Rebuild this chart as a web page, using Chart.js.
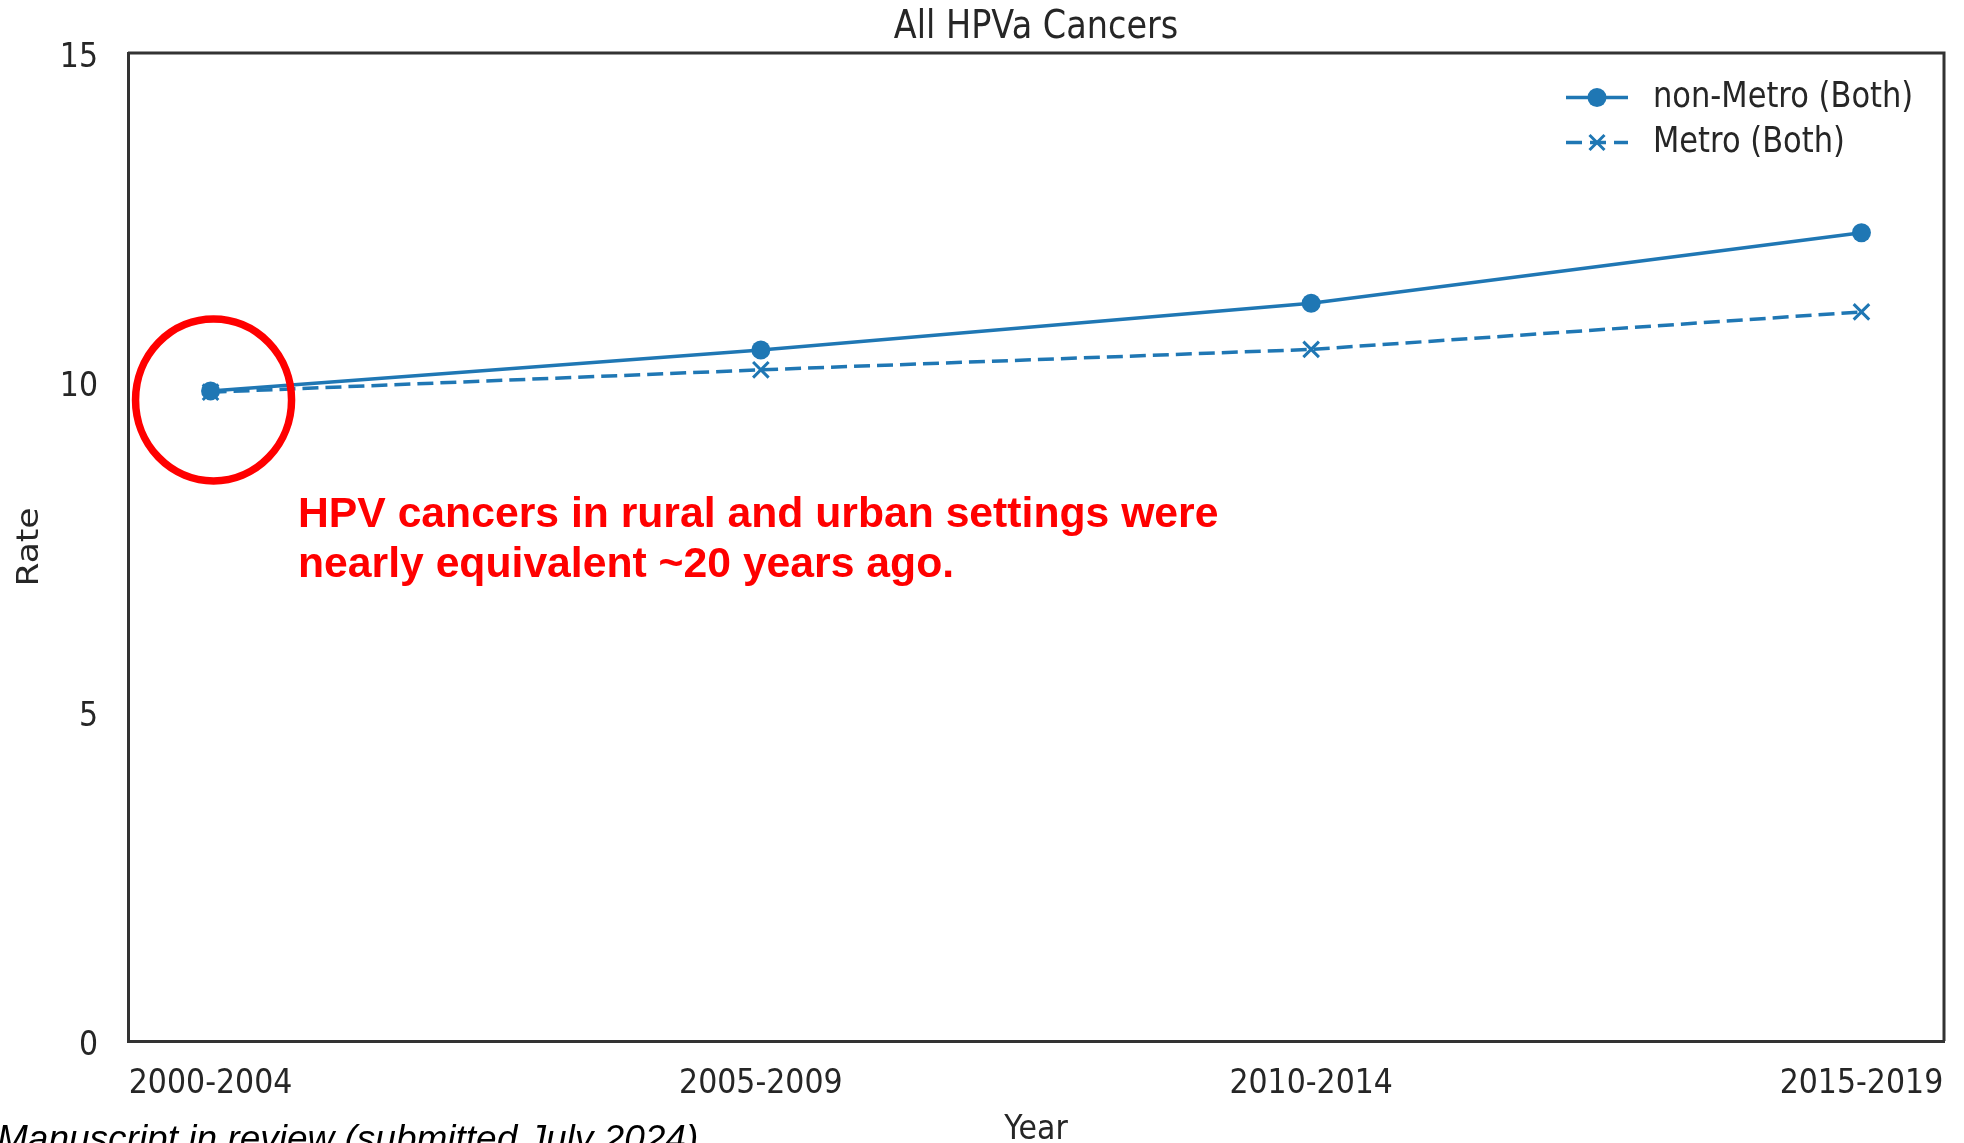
<!DOCTYPE html>
<html>
<head>
<meta charset="utf-8">
<script src="https://cdn.jsdelivr.net/npm/chart.js@4.4.1/dist/chart.umd.min.js"></script>
<style>
html,body{margin:0;padding:0;overflow:hidden;background:#fff;}
#wrap{position:relative;width:1964px;height:1143px;overflow:hidden;}
#c{position:absolute;left:0;top:0;}
#callout{position:absolute;left:298px;top:487px;font-family:"Liberation Sans",Arial,sans-serif;font-weight:bold;font-size:42.7px;line-height:50px;color:#ff0000;white-space:nowrap;}
#foot{position:absolute;left:-3px;top:1120px;font-family:"Liberation Sans",Arial,sans-serif;font-style:italic;font-size:37px;line-height:37px;color:#000;white-space:nowrap;}
</style>
</head>
<body>
<div id="wrap">
<canvas id="c" width="1964" height="1143"></canvas>
<div id="callout">HPV cancers in rural and urban settings were<br>nearly equivalent ~20 years ago.</div>
<div id="foot">Manuscript in review (submitted July 2024)</div>
</div>
<script>
// ---- data ----
const categories = ['2000-2004', '2005-2009', '2010-2014', '2015-2019'];
const nonMetro = [9.87, 10.49, 11.20, 12.27];
const metro = [9.85, 10.19, 10.50, 11.07];
const yTicks = [0, 5, 10, 15];
const seriesLabels = ['non-Metro (Both)', 'Metro (Both)'];
const chartTitle = 'All HPVa Cancers';
const xTitle = 'Year';
const yTitle = 'Rate';

// ---- style ----
const BLUE = '#1f77b4';
const TXT = '#262626';
const SPINE = '#333333';
const FONT = "'DejaVu Sans', 'Liberation Sans', sans-serif";
const DASH = [16, 7];
const LW = 3.5;
const TEXT_STRETCH_Y = 1.15; // the reference figure's text is vertically stretched

const canvas = document.getElementById('c');
const ctx = canvas.getContext('2d');
// draw chart text stretched vertically (in screen space) about its anchor point
(function () {
  const proto = CanvasRenderingContext2D.prototype.fillText;
  ctx.fillText = function (t, x, y, mw) {
    const m = this.getTransform();
    const px = m.a * x + m.c * y + m.e, py = m.b * x + m.d * y + m.f;
    const s = new DOMMatrix().translate(px, py).scale(1, TEXT_STRETCH_Y).translate(-px, -py).multiply(m);
    this.save();
    this.setTransform(s);
    if (mw === undefined) proto.call(this, t, x, y); else proto.call(this, t, x, y, mw);
    this.restore();
  };
})();

const boxPlugin = {
  id: 'box',
  afterDraw(chart) {
    const {ctx, chartArea: a} = chart;
    ctx.save();
    ctx.strokeStyle = SPINE;
    ctx.lineWidth = 3;
    ctx.beginPath();
    ctx.moveTo(a.left, a.top);
    ctx.lineTo(a.right, a.top);
    ctx.lineTo(a.right, a.bottom);
    ctx.stroke();
    ctx.restore();
  }
};

const legendPlugin = {
  id: 'mplLegend',
  afterDraw(chart) {
    const {ctx} = chart;
    const a = chart.chartArea;
    const x0 = a.right - 378, x1 = a.right - 316, xm = (x0 + x1) / 2, xt = a.right - 291;
    const rows = [a.top + 44.5, a.top + 89.5];
    ctx.save();
    chart.data.datasets.forEach((ds, i) => {
      const y = rows[i];
      ctx.strokeStyle = BLUE;
      ctx.lineWidth = LW;
      ctx.setLineDash(ds.borderDash ? [16, 8] : []);
      ctx.beginPath();
      ctx.moveTo(x0, y); ctx.lineTo(x1, y);
      ctx.stroke();
      ctx.setLineDash([]);
      if (ds.pointStyle === 'circle') {
        ctx.fillStyle = BLUE;
        ctx.beginPath(); ctx.arc(xm, y, 9.5, 0, Math.PI * 2); ctx.fill();
      } else {
        ctx.lineWidth = 3;
        const r = 7.5;
        ctx.beginPath();
        ctx.moveTo(xm - r, y - r); ctx.lineTo(xm + r, y + r);
        ctx.moveTo(xm - r, y + r); ctx.lineTo(xm + r, y - r);
        ctx.stroke();
      }
      ctx.fillStyle = TXT;
      ctx.font = '30.5px ' + FONT;
      ctx.textBaseline = 'middle';
      ctx.textAlign = 'left';
      ctx.fillText(ds.label, xt, y);
    });
    ctx.restore();
  }
};

const circlePlugin = {
  id: 'redCircle',
  afterDraw(chart) {
    const {ctx, scales} = chart;
    const cx = scales.x.getPixelForValue(0) + 3;
    const cy = scales.y.getPixelForValue(nonMetro[0]) + 9;
    ctx.save();
    ctx.strokeStyle = '#ff0000';
    ctx.lineWidth = 7.5;
    ctx.beginPath();
    ctx.ellipse(cx, cy, 78, 81, 0, 0, Math.PI * 2);
    ctx.stroke();
    ctx.restore();
  }
};

new Chart(ctx, {
  type: 'line',
  data: {
    datasets: [
      {
        label: seriesLabels[0],
        data: nonMetro.map((v, i) => ({x: i, y: v})),
        borderColor: BLUE,
        backgroundColor: BLUE,
        borderWidth: LW,
        pointStyle: 'circle',
        pointRadius: 9.5,
        pointBorderWidth: 0,
        pointBackgroundColor: BLUE,
        tension: 0
      },
      {
        label: seriesLabels[1],
        data: metro.map((v, i) => ({x: i, y: v})),
        borderColor: BLUE,
        backgroundColor: BLUE,
        borderWidth: LW,
        borderDash: DASH,
        pointStyle: 'crossRot',
        pointRadius: 11,
        pointBorderWidth: 3,
        pointBorderColor: BLUE,
        tension: 0
      }
    ]
  },
  options: {
    responsive: false,
    animation: false,
    events: [],
    layout: {padding: {left: 0, right: 20, top: 0, bottom: 0}},
    plugins: {
      legend: {display: false},
      tooltip: {enabled: false},
      title: {
        display: true,
        text: chartTitle,
        fullSize: false,
        color: TXT,
        font: {family: FONT, size: 33.5, weight: 'normal', lineHeight: 1.2},
        padding: {top: 8, bottom: 4.8}
      }
    },
    scales: {
      x: {
        type: 'linear',
        min: -0.15,
        max: 3.15,
        afterBuildTicks: s => { s.ticks = categories.map((c, i) => ({value: i})); },
        afterFit: s => { s.height = 102; s.paddingLeft = 0; s.paddingRight = 0; },
        ticks: {
          callback: v => categories[v],
          color: TXT,
          font: {family: FONT, size: 30},
          padding: 25,
          maxRotation: 0,
          autoSkip: false
        },
        grid: {display: false, drawTicks: false},
        border: {display: true, color: SPINE, width: 3},
        title: {display: true, text: xTitle, color: TXT, font: {family: FONT, size: 30}, padding: {top: 0, bottom: -5}}
      },
      y: {
        min: 0,
        max: 15,
        afterBuildTicks: s => { s.ticks = yTicks.map(v => ({value: v})); },
        afterFit: s => { s.width = 128; s.paddingTop = 0; s.paddingBottom = 0; },
        ticks: {
          color: TXT,
          font: {family: FONT, size: 30},
          padding: 30,
          labelOffset: 5
        },
        grid: {display: false, drawTicks: false},
        border: {display: true, color: SPINE, width: 3},
        title: {display: true, text: yTitle, color: TXT, font: {family: FONT, size: 30}, padding: {top: 12.5, bottom: 0}}
      }
    }
  },
  plugins: [boxPlugin, legendPlugin, circlePlugin]
});
</script>
</body>
</html>
